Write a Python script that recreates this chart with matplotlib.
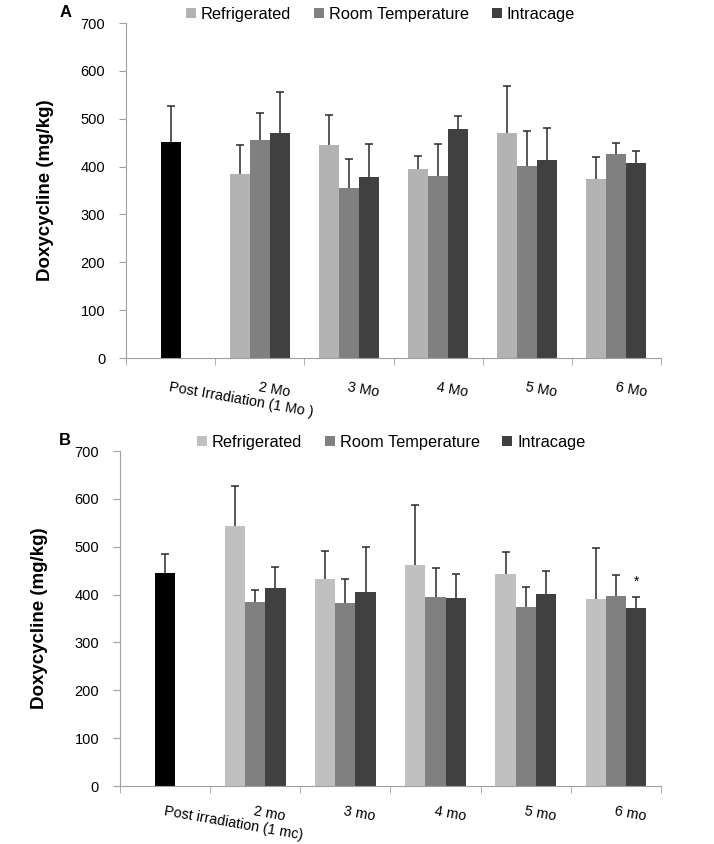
import numpy as np
import matplotlib as mpl
import matplotlib.pyplot as plt

mpl.rcParams.update({
    "font.family": ["Liberation Sans", "DejaVu Sans"],
})

# ----------------------------
# Data
# ----------------------------
series = ["Refrigerated", "Room Temperature", "Intracage"]

labels_a = ["Post Irradiation (1 Mo )", "2 Mo", "3 Mo", "4 Mo", "5 Mo", "6 Mo"]
post_a, post_a_err = 451, 75
ref_a = [384, 445, 396, 471, 374]
ref_a_err = [61, 62, 26, 97, 47]
room_a = [456, 356, 380, 401, 426]
room_a_err = [56, 59, 67, 73, 24]
intra_a = [470, 378, 478, 413, 408]
intra_a_err = [85, 70, 27, 67, 25]

labels_b = ["Post irradiation (1 mc)", "2 mo", "3 mo", "4 mo", "5 mo", "6 mo"]
post_b, post_b_err = 446, 38
ref_b = [543, 432, 462, 443, 390]
ref_b_err = [83, 59, 125, 47, 108]
room_b = [384, 383, 395, 375, 398]
room_b_err = [25, 49, 60, 41, 43]
intra_b = [413, 405, 392, 401, 372]
intra_b_err = [44, 95, 51, 49, 22]

fig = plt.figure(figsize=(7.14, 8.44), dpi=100)
ax_a = fig.add_axes([0.1765, 0.5758, 0.7493, 0.3969])
ax_b = fig.add_axes([0.168, 0.0687, 0.7578, 0.3969])

w = 0.224
err_kw = dict(ecolor="#2a2a2a", elinewidth=1.1, capsize=3, capthick=1.1)


def upper_only(container):
    # hide the cap drawn at the bar top (lower error is zero)
    caps = container.errorbar.lines[1]
    if len(caps) > 1:
        caps[0].set_visible(False)


def draw_panel(ax, labels, post, post_err, vals, errs, colors, letter, leg_x,
               let_x, pad):
    b = ax.bar(0, post, w, color="black", yerr=[[0], [post_err]],
               error_kw=err_kw)
    upper_only(b)
    x = np.arange(1, 6)
    handles = []
    for k, (v, e, c) in enumerate(zip(vals, errs, colors)):
        h = ax.bar(x + (k - 1) * w, v, w, color=c, label=series[k],
                   yerr=[np.zeros(len(e)), e], error_kw=err_kw)
        upper_only(h)
        handles.append(h)

    ax.set_xlim(-0.5, 5.5)
    ax.set_ylim(0, 700)
    ax.set_yticks(np.arange(0, 701, 100))
    ax.set_xticks(np.arange(6))
    ax.set_xticklabels(labels, rotation=-10, ha="left", rotation_mode="anchor",
                       fontsize=10.3)
    ax.tick_params(axis="x", which="major", length=0, pad=pad)
    ax.set_xticks(np.arange(-0.5, 6.0, 1), minor=True)
    ax.tick_params(axis="x", which="minor", length=5, color="#a0a0a0")
    ax.tick_params(axis="y", length=5, color="#a0a0a0", labelsize=10.5, pad=10)
    for s in ["top", "right"]:
        ax.spines[s].set_visible(False)
    for s in ["left", "bottom"]:
        ax.spines[s].set_color("#a0a0a0")
    ax.set_ylabel("Doxycycline (mg/kg)", fontsize=13.5, fontweight="bold",
                  labelpad=19)
    ax.legend(handles=handles, loc="lower left", bbox_to_anchor=(leg_x, 0.985),
              ncol=3, frameon=False, fontsize=11.8, handlelength=0.6,
              handleheight=0.6, handletextpad=0.3, columnspacing=1.4,
              borderaxespad=0)
    ax.text(let_x, 1.01, letter, transform=ax.transAxes, fontsize=12,
            fontweight="bold", va="bottom")


draw_panel(ax_a, labels_a, post_a, post_a_err, [ref_a, room_a, intra_a],
           [ref_a_err, room_a_err, intra_a_err],
           ["#b3b3b3", "#808080", "#404040"], "A", 0.10, -0.125, 16)
draw_panel(ax_b, labels_b, post_b, post_b_err, [ref_b, room_b, intra_b],
           [ref_b_err, room_b_err, intra_b_err],
           ["#c0c0c0", "#808080", "#404040"], "B", 0.13, -0.112, 13)

ax_b.text(5 + w, intra_b[4] + intra_b_err[4] + 18, "*", ha="center",
          va="bottom", fontsize=10)

fig.savefig("out.png", dpi=100)
